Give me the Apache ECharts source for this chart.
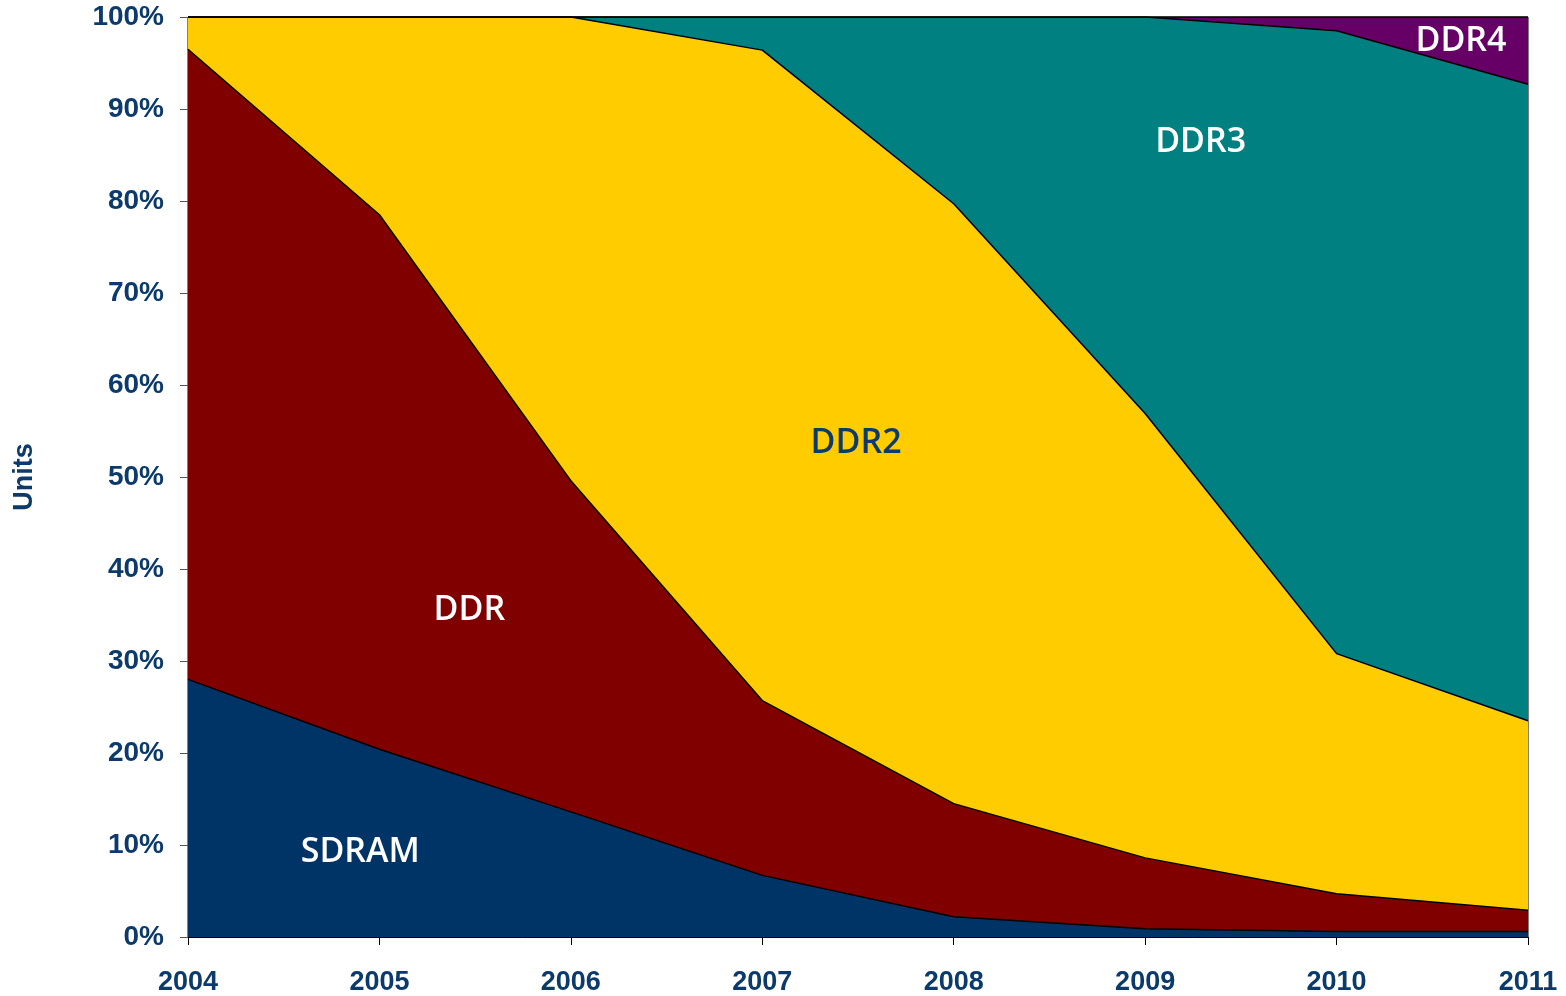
<!DOCTYPE html>
<html>
<head>
<meta charset="utf-8">
<script src="https://cdn.jsdelivr.net/npm/echarts@6/dist/echarts.min.js"></script>
<style>
  html, body { margin: 0; padding: 0; background: #fff; }
  #chart { width: 1566px; height: 996px; }
</style>
</head>
<body>
<div id="chart"></div>
<script>
// market share by memory type, % of units
const years = ['2004', '2005', '2006', '2007', '2008', '2009', '2010', '2011'];
const sdram = [28.0, 20.4, 13.6, 6.7, 2.2, 0.9, 0.6, 0.6];
const ddr = [68.5, 58.1, 36.0, 19.0, 12.3, 7.7, 4.1, 2.3];
const ddr2 = [3.5, 21.5, 50.4, 70.7, 65.2, 48.3, 26.1, 20.6];
const ddr3 = [0, 0, 0, 3.6, 20.3, 43.1, 67.7, 69.2];
const ddr4 = [0, 0, 0, 0, 0, 0, 1.5, 7.3];

// in-chart labels: [year, percent, text]
const areaLabels = [
  [2004.9, 9.2, 'SDRAM'],
  [2005.47, 35.5, 'DDR'],
  [2007.49, 53.7, 'DDR2'],
  [2009.29, 86.4, 'DDR3'],
  [2010.65, 97.4, 'DDR4']
];

const navy = '#0b3a6b';

function area(name, values, color) {
  return {
    name: name,
    type: 'line',
    stack: 'total',
    symbol: 'none',
    data: values,
    lineStyle: { color: '#000', width: 1.5 },
    areaStyle: { color: color, opacity: 1 },
    z: 2
  };
}

const chart = echarts.init(document.getElementById('chart'));
chart.setOption({
  animation: false,
  grid: {
    left: 188, right: 38, top: 17, bottom: 58,
    show: true, borderColor: '#000', borderWidth: 1
  },
  xAxis: [{
    type: 'category',
    data: years,
    boundaryGap: false,
    splitLine: { show: false },
    axisLine: { lineStyle: { color: '#000' } },
    axisTick: { show: true, inside: false, length: 8, lineStyle: { color: '#000' } },
    axisLabel: {
      margin: 32,
      color: navy, fontFamily: 'Liberation Sans', fontWeight: 'bold', fontSize: 27
    }
  }, {
    // hidden helper axis used only to place the series labels
    type: 'value',
    min: 2004, max: 2011,
    show: false
  }],
  yAxis: {
    type: 'value',
    min: 0, max: 100, interval: 10,
    name: 'Units',
    nameLocation: 'middle',
    nameGap: 150,
    nameRotate: 90,
    nameTextStyle: { color: navy, fontFamily: 'Liberation Sans', fontWeight: 'bold', fontSize: 27 },
    splitLine: { show: false },
    axisLine: { show: true, lineStyle: { color: '#000' } },
    axisTick: { show: true, length: 8, lineStyle: { color: '#555' } },
    axisLabel: {
      margin: 24,
      color: navy, fontFamily: 'Liberation Sans', fontWeight: 'bold', fontSize: 28,
      formatter: '{value}%'
    }
  },
  series: [
    area('SDRAM', sdram, '#003366'),
    area('DDR', ddr, '#800000'),
    area('DDR2', ddr2, '#ffcc00'),
    area('DDR3', ddr3, '#008080'),
    area('DDR4', ddr4, '#660066'),
    {
      type: 'scatter',
      xAxisIndex: 1,
      symbolSize: 0,
      z: 5,
      itemStyle: { opacity: 1 },
      data: areaLabels.map(d => ({
        value: [d[0], d[1]],
        label: { color: d[2] === 'DDR2' ? navy : '#fff' }
      })),
      label: {
        show: true,
        position: 'inside',
        fontFamily: 'Open Sans',
        fontWeight: 600,
        fontSize: 34,
        formatter: p => areaLabels[p.dataIndex][2]
      }
    }
  ]
});
</script>
</body>
</html>
